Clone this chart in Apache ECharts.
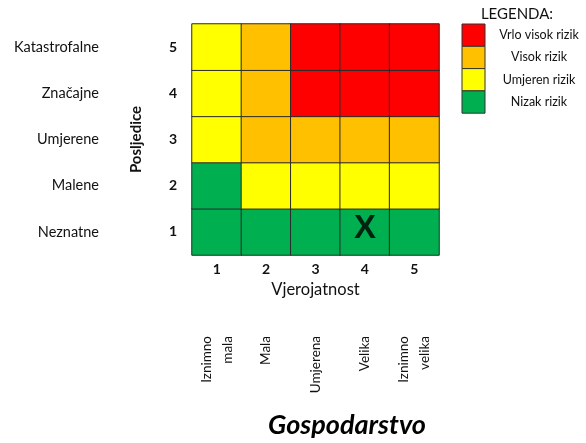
<!DOCTYPE html>
<html><head><meta charset="utf-8">
<script src="https://cdn.jsdelivr.net/npm/echarts@6/dist/echarts.min.js"></script>
<style>html,body{margin:0;padding:0;background:#fff}#c{width:586px;height:443px}</style>
</head><body><div id="c"></div>
<script>
const likelihood = ['1','2','3','4','5'];
const consequence = ['1','2','3','4','5'];
const consequenceNames = ['Neznatne','Malene','Umjerene','Značajne','Katastrofalne'];
const likelihoodNames = ['Iznimno\nmala','Mala','Umjerena','Velika','Iznimno\nvelika'];
// risk level per consequence row (1..5), per likelihood column (1..5): 1=nizak,2=umjeren,3=visok,4=vrlo visok
const riskRows = [
  [1,1,1,1,1],
  [1,2,2,2,2],
  [2,3,3,3,3],
  [2,3,4,4,4],
  [2,3,4,4,4]
];
const riskColors = ['#00B050','#FFFF00','#FFC000','#FF0000'];
const legendLabels = ['Nizak rizik','Umjeren rizik','Visok rizik','Vrlo visok rizik'];
const legendTitle = 'LEGENDA:';
const markerPoint = ['4','1'];
const markerText = 'X';
const xName = 'Vjerojatnost';
const yName = 'Posljedice';
const chartTitle = 'Gospodarstvo';

const FONT = 'Lato, "Open Sans", sans-serif';
const cells = [];
riskRows.forEach((row, yi) => row.forEach((lvl, xi) => cells.push([likelihood[xi], consequence[yi], lvl])));

const legendGraphics = [{type:'text', x:517, y:14, style:{text: legendTitle, font: '15px ' + FONT, fill:'#111', textAlign:'center', textVerticalAlign:'middle'}}];
for (let i = 0; i < 4; i++) {
  const lvl = 3 - i;
  legendGraphics.push({type:'rect', shape:{x:462, y:24 + 22.3*i, width:23, height:22.3}, style:{fill: riskColors[lvl], stroke:'#333', lineWidth:1}});
  legendGraphics.push({type:'text', x:539, y:24 + 22.3*i + 11, style:{text: legendLabels[lvl], font: '12.5px ' + FONT, fill:'#111', textAlign:'center', textVerticalAlign:'middle'}});
}

const chart = echarts.init(document.getElementById('c'));
chart.setOption({
  animation:false,
  textStyle:{fontFamily: FONT},
  title:{text: chartTitle, left: 342, top: 407, textAlign:'center',
    textStyle:{fontSize:27, fontWeight:'bold', fontStyle:'italic', color:'#000', fontFamily: FONT}},
  grid:{left:192, top:24, width:247, height:231},
  xAxis:[
    {type:'category', data: likelihood, position:'bottom',
     axisLine:{show:false}, axisTick:{show:false}, splitLine:{show:false},
     axisLabel:{fontWeight:'bold', fontSize:14, color:'#111', margin:7},
     name: xName, nameLocation:'middle', nameGap:24, nameTextStyle:{fontSize:16.5, color:'#111'}},
    {type:'category', data: likelihoodNames, position:'bottom', offset:74,
     axisLine:{show:false}, axisTick:{show:false},
     axisLabel:{rotate:90, fontSize:13.5, color:'#111', lineHeight:21, margin:7, interval:0}}
  ],
  yAxis:[
    {type:'category', data: consequence, position:'left',
     axisLine:{show:false}, axisTick:{show:false}, splitLine:{show:false},
     axisLabel:{fontWeight:'bold', fontSize:14, color:'#111', margin:15},
     name: yName, nameLocation:'middle', nameRotate:90, nameGap:48,
     nameTextStyle:{fontSize:15, fontWeight:'bold', color:'#111'}},
    {type:'category', data: consequenceNames, position:'left', offset:86,
     axisLine:{show:false}, axisTick:{show:false},
     axisLabel:{fontSize:14.5, color:'#111', margin:7}}
  ],
  visualMap:{show:false, type:'piecewise', dimension:2, seriesIndex:0,
    pieces: riskColors.map((c,i)=>({value:i+1, color:c}))},
  series:[
    {type:'heatmap', data: cells, itemStyle:{borderColor:'#2a2a2a', borderWidth:1}, emphasis:{disabled:true}},
    {type:'scatter', data:[markerPoint], symbolSize:2, itemStyle:{color:'rgba(0,0,0,0)'}, z:5,
     label:{show:true, position:'inside', formatter: markerText, fontSize:33, fontWeight:'bold', color:'#000', fontFamily:'"Liberation Sans", Arial, sans-serif', offset:[0,-3]}}
  ],
  graphic: legendGraphics
});
</script></body></html>
